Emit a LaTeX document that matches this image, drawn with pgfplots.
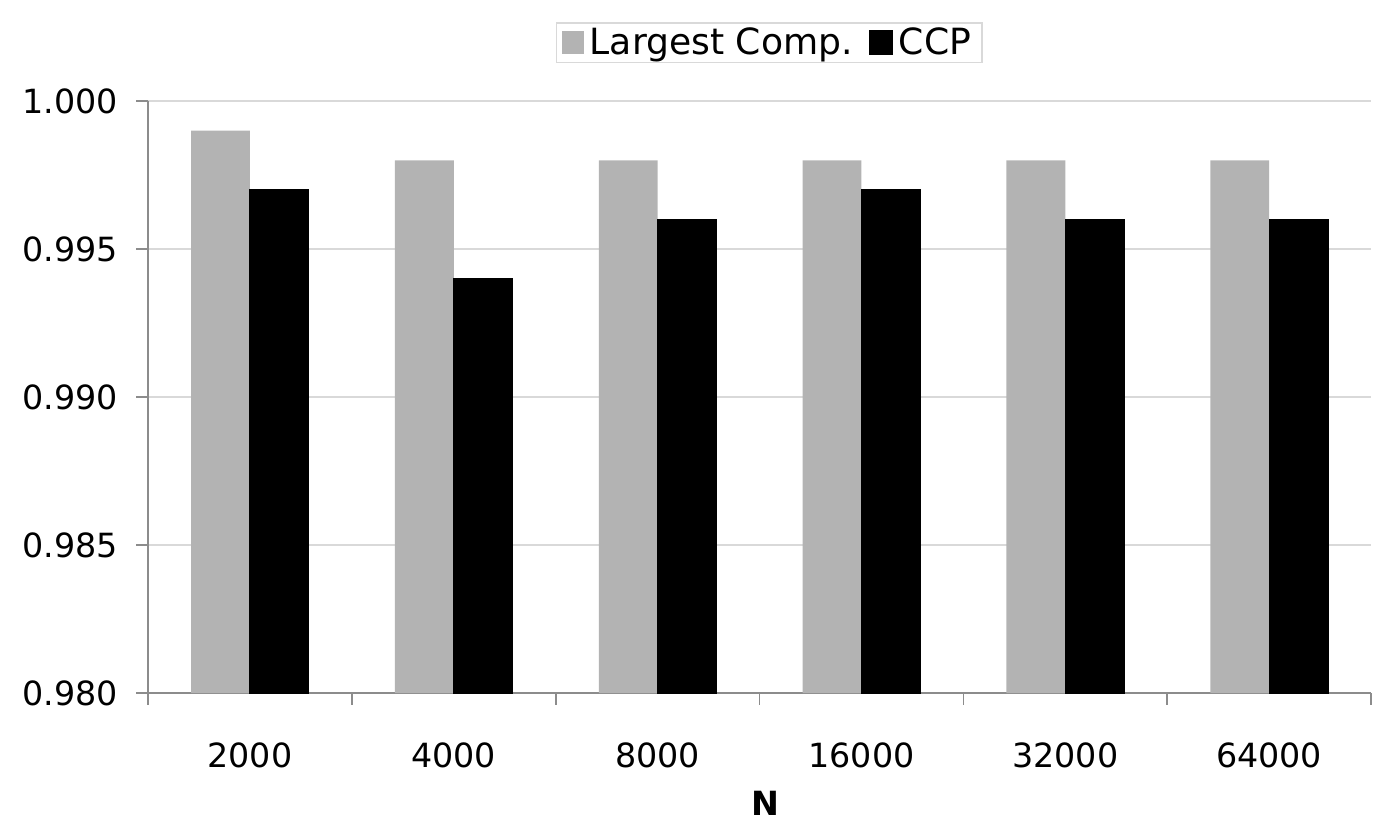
\documentclass[border=0pt]{standalone}
\usepackage{fontspec}
\setmainfont{DejaVu Sans}
\usepackage{pgfplots}
\pgfplotsset{compat=1.18}
\definecolor{lgray}{HTML}{B3B3B3}
\definecolor{gridc}{HTML}{D9D9D9}
\definecolor{axc}{HTML}{8C8C8C}
\begin{document}
\begin{tikzpicture}
\useasboundingbox (0,0) rectangle (494.3pt,295.9pt);
\begin{axis}[
  at={(53.3pt,46.4pt)}, anchor=south west,
  width=440.3pt, height=213.1pt, scale only axis,
  ymin=0.98, ymax=1.0, xmin=-0.5, xmax=5.5,
  ybar=0pt, bar width=21.2pt,
  ytick={0.98,0.985,0.99,0.995,1.0},
  /pgf/number format/fixed, /pgf/number format/fixed zerofill,
  /pgf/number format/precision=3, /pgf/number format/assume math mode=true,
  ymajorgrids, grid style={gridc, line width=0.7pt},
  axis x line*=bottom, axis y line*=left,
  axis line style={axc, line width=0.6pt},
  xtick={0,1,2,3,4,5},
  xticklabels={2000,4000,8000,16000,32000,64000},
  major x tick style={draw=none},
  minor xtick={-0.5,0.5,1.5,2.5,3.5,4.5,5.5},
  tick align=outside, major tick length=4.3pt, minor tick length=4.3pt,
  tick style={axc, line width=0.6pt},
  ticklabel style={font=\fontsize{12}{14}\selectfont},
  xticklabel style={yshift=-10pt},
  yticklabel style={xshift=-3pt},
  xlabel={\textbf{N}},
  xlabel style={at={(axis description cs:0.505,-0.187)}, anchor=center, font=\fontsize{12}{14}\selectfont},
  legend columns=-1,
  legend style={at={(0.508,1.133)}, anchor=north, draw=gridc, line width=0.6pt,
    font=\fontsize{13}{15}\selectfont, inner xsep=2pt, inner ysep=1pt,
    nodes={inner ysep=0.5pt, inner xsep=2pt},
    /tikz/every even column/.append style={column sep=4pt}},
  legend image code/.code={\fill[#1] (0pt,-4pt) rectangle (8pt,4.4pt);},
]
\addplot[fill=lgray, draw=none] coordinates {(0,0.999) (1,0.998) (2,0.998) (3,0.998) (4,0.998) (5,0.998)};
\addplot[fill=black, draw=black] coordinates {(0,0.997) (1,0.994) (2,0.996) (3,0.997) (4,0.996) (5,0.996)};
\legend{Largest Comp., CCP}
\end{axis}
\end{tikzpicture}
\end{document}
